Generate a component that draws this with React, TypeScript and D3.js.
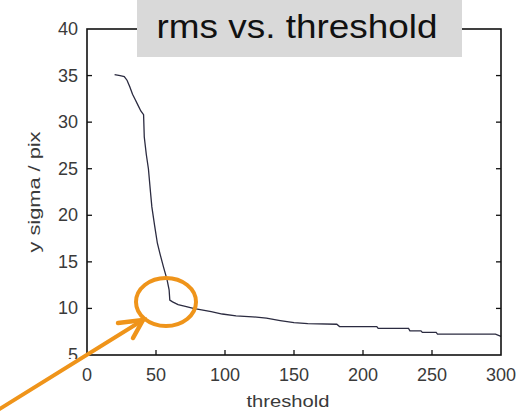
import React from "react";
import * as d3 from "d3";

// rms (y sigma, pixels) as a function of detection threshold
const thresholds = [
  20, 24, 27, 29, 31, 33, 35, 37, 39, 41, 41.5, 43, 44.5, 46, 47, 49, 51, 53, 55.5, 58, 59.5, 60, 62, 66,
  72, 77, 83, 90, 98, 108, 120, 130, 140, 150, 160, 181, 183, 210, 211, 233, 234, 242, 243, 253, 254, 296, 300,
];
const sigmas = [
  35.1, 35.0, 34.9, 34.5, 33.8, 33.0, 32.4, 31.8, 31.2, 30.8, 28.4, 26.5, 25.0, 22.5, 20.9, 18.9, 17.0, 15.8,
  14.4, 13.1, 12.0, 10.9, 10.7, 10.4, 10.2, 10.0, 9.85, 9.65, 9.4, 9.2, 9.1, 8.95, 8.7, 8.47, 8.36, 8.3, 8.05,
  8.04, 7.86, 7.86, 7.6, 7.6, 7.43, 7.43, 7.25, 7.25, 7.0,
];

const xTicks = [0, 50, 100, 150, 200, 250, 300];
const yTicks = [5, 10, 15, 20, 25, 30, 35, 40];

const title = "rms vs. threshold";
const xLabel = "threshold";
const yLabel = "y sigma / pix";

const W = 526;
const H = 412;
const plot = { left: 87, right: 501, top: 29, bottom: 355 };

export default function App() {
  const x = d3.scaleLinear().domain([0, 300]).range([plot.left, plot.right]);
  const y = d3.scaleLinear().domain([5, 40]).range([plot.bottom, plot.top]);

  const points: [number, number][] = thresholds.map((t, i) => [t, sigmas[i]]);
  const line = d3
    .line<[number, number]>()
    .x((d) => x(d[0]))
    .y((d) => y(d[1]));

  const tickLen = 5;
  const tickFont = "'Liberation Sans', Arial, Helvetica, sans-serif";
  const orange = "#ef941a";

  // annotation arrow geometry
  const tip = { x: 143, y: 320 };

  return (
    <svg
      width={W}
      height={H}
      viewBox={`0 0 ${W} ${H}`}
      style={{ position: "absolute", left: 0, top: 0, background: "#fff" }}
    >
      {/* y tick labels */}
      {yTicks.map((t) => (
        <text
          key={`yl${t}`}
          x={plot.left - 9}
          y={y(t)}
          textAnchor="end"
          dominantBaseline="central"
          fontFamily={tickFont}
          fontSize={18}
          fill="#3a3a3a"
        >
          {t}
        </text>
      ))}

      {/* band behind the x tick labels */}
      <rect x={0} y={359} width={W} height={33} fill="#fff" />

      {/* x tick labels */}
      {xTicks.map((t) => (
        <text
          key={`xl${t}`}
          x={x(t)}
          y={381}
          textAnchor="middle"
          fontFamily={tickFont}
          fontSize={18}
          fill="#3a3a3a"
        >
          {t}
        </text>
      ))}

      {/* axis labels */}
      <text
        x={(plot.left + plot.right) / 2 - 6}
        y={407}
        textAnchor="middle"
        fontFamily={tickFont}
        fontSize={17}
        fill="#3a3a3a"
        textLength={83}
        lengthAdjust="spacingAndGlyphs"
      >
        {xLabel}
      </text>
      <text
        transform={`translate(40, 192) rotate(-90)`}
        textAnchor="middle"
        fontFamily={tickFont}
        fontSize={16}
        fill="#3a3a3a"
        textLength={121}
        lengthAdjust="spacingAndGlyphs"
      >
        {yLabel}
      </text>

      {/* data line */}
      <path d={line(points) || ""} fill="none" stroke="#2b2b40" strokeWidth={1.3} />

      {/* ticks (inward) */}
      {xTicks.slice(1, -1).map((t) => (
        <g key={`xt${t}`}>
          <line x1={x(t)} x2={x(t)} y1={plot.bottom} y2={plot.bottom - tickLen} stroke="#111" strokeWidth={1.3} />
          <line x1={x(t)} x2={x(t)} y1={plot.top} y2={plot.top + tickLen} stroke="#111" strokeWidth={1.3} />
        </g>
      ))}
      {yTicks.slice(1, -1).map((t) => (
        <g key={`yt${t}`}>
          <line x1={plot.left} x2={plot.left + tickLen} y1={y(t)} y2={y(t)} stroke="#111" strokeWidth={1.3} />
          <line x1={plot.right} x2={plot.right - tickLen} y1={y(t)} y2={y(t)} stroke="#111" strokeWidth={1.3} />
        </g>
      ))}

      {/* axes box */}
      <rect
        x={plot.left}
        y={plot.top}
        width={plot.right - plot.left}
        height={plot.bottom - plot.top}
        fill="none"
        stroke="#111"
        strokeWidth={1.6}
      />

      {/* title box */}
      <rect x={137} y={0} width={325} height={57} fill="#d9d9d9" />
      <text
        x={297}
        y={38}
        textAnchor="middle"
        fontFamily={tickFont}
        fontSize={33}
        fill="#111"
        textLength={281}
        lengthAdjust="spacingAndGlyphs"
      >
        {title}
      </text>

      {/* highlight ellipse and arrow */}
      <ellipse cx={166} cy={302} rx={30} ry={24} fill="none" stroke={orange} strokeWidth={4} />
      <line x1={-2} y1={410} x2={tip.x} y2={tip.y} stroke={orange} strokeWidth={4} strokeLinecap="round" />
      <polyline
        points={`${tip.x - 25},${tip.y + 3} ${tip.x},${tip.y} ${tip.x - 10},${tip.y + 18}`}
        fill="none"
        stroke={orange}
        strokeWidth={4.5}
        strokeLinecap="round"
        strokeLinejoin="miter"
      />
    </svg>
  );
}
